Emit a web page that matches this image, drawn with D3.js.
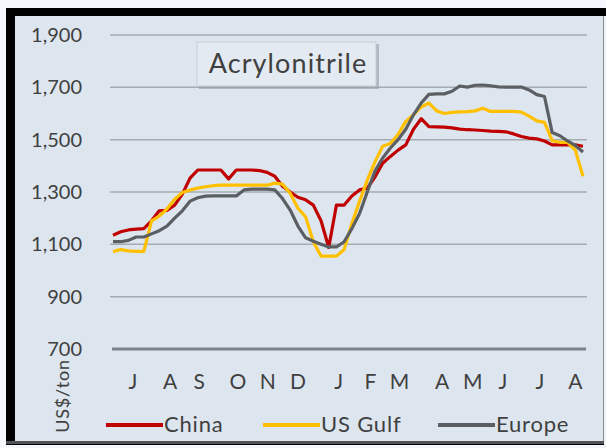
<!DOCTYPE html>
<html>
<head>
<meta charset="utf-8">
<script src="https://cdn.jsdelivr.net/npm/d3@7"></script>
<style>
  html, body { margin: 0; padding: 0; background: #f4f8fc; }
  svg { display: block; }
  text { font-family: Lato, "Open Sans", sans-serif; fill: #404040; }
</style>
</head>
<body>
<svg id="chart" width="606" height="448"></svg>
<script>
// Weekly acrylonitrile prices, US$/ton
const china = [1135,1148,1155,1158,1160,1190,1228,1230,1250,1292,1353,1384,1384,1384,1384,1350,1384,1384,1384,1382,
  1375,1360,1322,1300,1280,1270,1250,1190,1088,1250,1250,1285,1308,1315,1357,1410,1436,1460,1480,1540,
  1580,1550,1549,1548,1545,1540,1538,1537,1535,1533,1532,1530,1522,1512,1506,1503,1495,1480,1480,1480,
  1480,1475];
const usGulf = [1072,1080,1075,1073,1073,1190,1208,1235,1272,1298,1308,1315,1320,1324,1326,1326,1326,1326,1326,1326,
  1326,1334,1330,1295,1238,1205,1110,1055,1055,1055,1080,1180,1265,1345,1415,1475,1485,1520,1570,1595,
  1625,1640,1610,1600,1604,1606,1607,1610,1620,1608,1608,1608,1608,1605,1590,1572,1566,1496,1490,1490,
  1460,1360];
const europe = [1110,1110,1115,1128,1128,1140,1152,1170,1200,1228,1265,1278,1284,1285,1285,1285,1285,1308,1311,1311,
  1311,1308,1275,1231,1170,1125,1112,1100,1090,1090,1110,1160,1218,1300,1380,1430,1468,1500,1540,1595,
  1640,1673,1675,1675,1685,1705,1701,1708,1709,1706,1702,1701,1701,1701,1690,1672,1665,1527,1515,1495,
  1478,1453];

// Month labels and their positions along the week index
const monthLabels = ["J","A","S","O","N","D","J","F","M","A","M","J","J","A"];
const monthPos = [2.6,7.4,11.2,16.2,20.1,24.0,29.3,33.4,37.2,42.7,46.7,50.6,55.4,60.0];

const yTicks = [700, 900, 1100, 1300, 1500, 1700, 1900];

const seriesNames = ["China", "US Gulf", "Europe"];
const seriesColors = ["#c00000", "#ffc000", "#5b5f63"];
const seriesData = [china, usGulf, europe];

const svg = d3.select("#chart");

// frame: black border with light panel
svg.append("rect").attr("x", 0).attr("y", 0).attr("width", 606).attr("height", 448).attr("fill", "#f4f8fc");
svg.append("rect").attr("x", 6).attr("y", 8).attr("width", 600).attr("height", 437).attr("fill", "#000");
svg.append("rect").attr("x", 15).attr("y", 16).attr("width", 588).attr("height", 425).attr("fill", "#dde6ef");
svg.append("line").attr("x1", 603.5).attr("x2", 603.5).attr("y1", 16).attr("y2", 443)
  .attr("stroke", "#8a9096").attr("stroke-width", 1);
svg.append("rect").attr("x", 6).attr("y", 441).attr("width", 598).attr("height", 3).attr("fill", "#505357");
svg.append("rect").attr("x", 604).attr("y", 16).attr("width", 2).attr("height", 432).attr("fill", "#eef2f6");

const x = d3.scaleLinear().domain([0, china.length - 1]).range([113, 583]);
const y = d3.scaleLinear().domain([700, 1900]).range([349, 35]);

// gridlines
svg.append("g").selectAll("line").data(yTicks.filter(d => d > 700)).join("line")
  .attr("x1", 110).attr("x2", 587)
  .attr("y1", d => y(d)).attr("y2", d => y(d))
  .attr("stroke", "#a4abb2").attr("stroke-width", 1.5);

// base axis line
svg.append("line").attr("x1", 112).attr("x2", 586).attr("y1", y(700)).attr("y2", y(700))
  .attr("stroke", "#7c8288").attr("stroke-width", 3);

// y tick labels
svg.append("g").selectAll("text").data(yTicks).join("text")
  .attr("x", 82).attr("y", d => y(d) + 7)
  .attr("text-anchor", "end").attr("font-size", 20)
  .text(d => d3.format(",")(d));

// month labels
svg.append("g").selectAll("text").data(monthLabels).join("text")
  .attr("x", (d, i) => x(monthPos[i])).attr("y", 389)
  .attr("text-anchor", "middle").attr("font-size", 21)
  .text(d => d);

// unit label
svg.append("text").attr("transform", "translate(69,396) rotate(-90)")
  .attr("text-anchor", "middle").attr("font-size", 18).attr("letter-spacing", 0.8).text("US$/ton");

// title box
const tb = svg.append("g");
tb.append("rect").attr("x", 199).attr("y", 44).attr("width", 180).attr("height", 45)
  .attr("fill", "#9ca3aa").attr("opacity", 0.7);
tb.append("rect").attr("x", 197).attr("y", 42).attr("width", 179).attr("height", 44)
  .attr("fill", "#e3eaf2").attr("stroke", "#c7ced6").attr("stroke-width", 1);
tb.append("text").attr("x", 288).attr("y", 73).attr("text-anchor", "middle")
  .attr("font-size", 27).attr("letter-spacing", 1.1).text("Acrylonitrile");

// lines
const line = d3.line().x((d, i) => x(i)).y(d => y(d));
svg.append("g").selectAll("path").data(seriesData).join("path")
  .attr("d", d => line(d))
  .attr("fill", "none")
  .attr("stroke", (d, i) => seriesColors[i])
  .attr("stroke-width", 3.2)
  .attr("stroke-linejoin", "round");

// legend
const legendX = [106, 263, 438];
const lg = svg.append("g").selectAll("g").data(seriesNames).join("g")
  .attr("transform", (d, i) => `translate(${legendX[i]},425)`);
lg.append("line").attr("x1", 0).attr("x2", 57).attr("y1", 0).attr("y2", 0)
  .attr("stroke", (d, i) => seriesColors[i]).attr("stroke-width", 4);
lg.append("text").attr("x", 58).attr("y", 7).attr("font-size", 22).attr("letter-spacing", 0.8).text(d => d);
</script>
</body>
</html>
